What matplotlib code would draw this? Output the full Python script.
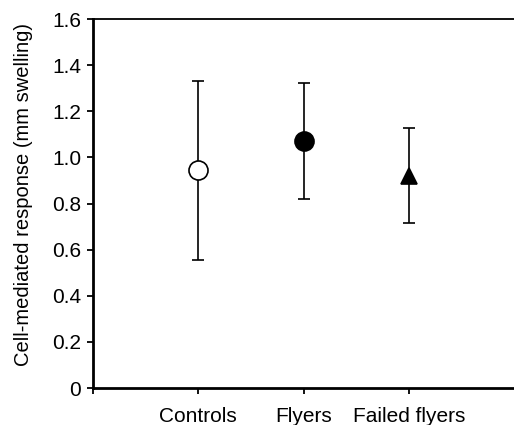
import matplotlib
matplotlib.use("Agg")
import matplotlib.pyplot as plt

plt.rcParams['font.family'] = ['Liberation Sans', 'DejaVu Sans']

groups = ["Controls", "Flyers", "Failed flyers"]
means = [0.944, 1.071, 0.92]
upper = [1.333, 1.324, 1.127]
lower = [0.555, 0.821, 0.716]
markers = ["o", "o", "^"]
facecolors = ["white", "black", "black"]
yticks = [0, 0.2, 0.4, 0.6, 0.8, 1.0, 1.2, 1.4, 1.6]
ytick_labels = ["0", "0.2", "0.4", "0.6", "0.8", "1.0", "1.2", "1.4", "1.6"]

fig = plt.figure(figsize=(5.14, 4.25), dpi=100)
ax = fig.add_axes([0.181, 0.087, 0.819, 0.868])

for i, g in enumerate(groups):
    x = i + 1
    ax.errorbar([x], [means[i]],
                yerr=[[means[i] - lower[i]], [upper[i] - means[i]]],
                fmt='none', ecolor='black', elinewidth=1.2, capsize=4.5,
                capthick=1.2, zorder=2)
    ms = 13.7 if markers[i] == "o" else 12
    ax.plot([x], [means[i]], marker=markers[i], markersize=ms,
            markerfacecolor=facecolors[i], markeredgecolor='black',
            markeredgewidth=1.2, linestyle='none', zorder=3)

ax.set_xlim(0, 4)
ax.set_ylim(0, 1.6)
ax.set_xticks([0, 1, 2, 3])
ax.set_xticklabels([""] + groups, fontsize=15)
ax.set_yticks(yticks)
ax.set_yticklabels(ytick_labels, fontsize=15)
ax.tick_params(axis='both', direction='out', length=4.5, width=1.3, colors='black')
ax.tick_params(axis='x', pad=9.5)
ax.tick_params(axis='y', pad=4)

ax.spines['left'].set_linewidth(2.0)
ax.spines['bottom'].set_linewidth(2.0)
ax.spines['top'].set_linewidth(1.3)
ax.spines['right'].set_visible(False)

ax.set_ylabel("Cell-mediated response (mm swelling)", fontsize=14.5)
ax.yaxis.set_label_coords(-0.143, 0.525)

fig.savefig("out.png", dpi=100)
